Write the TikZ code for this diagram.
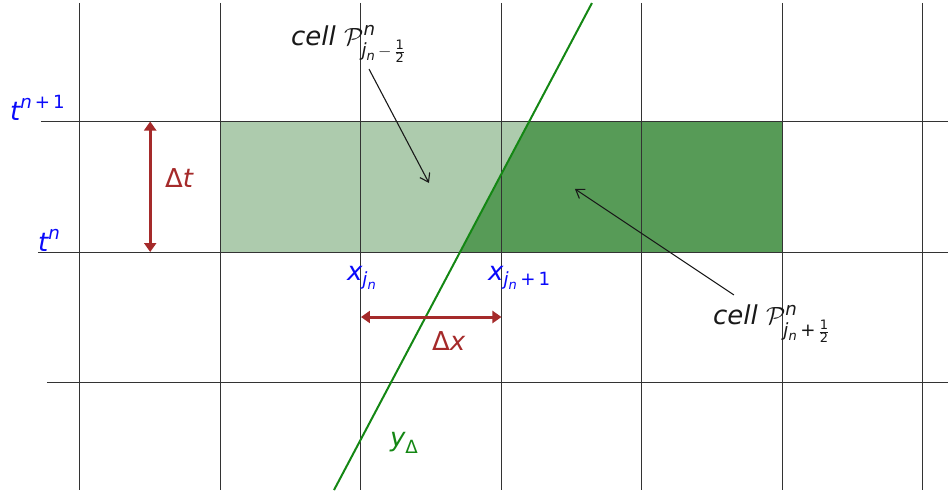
\documentclass[tikz,border=0pt]{standalone}
\usepackage{amsmath}
\usepackage{fontspec}
\setmainfont{DejaVu Sans}
\usetikzlibrary{arrows.meta}

\definecolor{tblue}{RGB}{10,10,250}
\definecolor{dbrown}{RGB}{165,42,42}
\definecolor{yline}{RGB}{20,135,20}
\definecolor{lgreen}{RGB}{173,203,173}
\definecolor{dgreen}{RGB}{87,155,87}

\newcommand{\mv}[1]{\textit{#1}}
\newcommand{\mt}[1]{\textup{#1}}

\begin{document}
\begin{tikzpicture}[x=140.5pt, y=130.5pt,
    gridline/.style={black!80, line width=1pt},
    dimarrow/.style={dbrown, line width=3pt,
        {Triangle[length=9pt,width=12pt]}-{Triangle[length=9pt,width=12pt]}},
    pointer/.style={black!90, line width=1.1pt, -{Straight Barb[length=8pt,width=11pt]}},
    every node/.style={font=\fontsize{26}{30}\selectfont, inner sep=0pt}]
    \useasboundingbox (-2.569,-1.854) rectangle (4.178,1.931);

    % 网格单元
    \coordinate (r00) at (-1,0);
    \coordinate (r10) at (3,0);
    \coordinate (r01) at (-1,1);
    \coordinate (r11) at (3,1);
    \coordinate (yA) at (-0.192,-1.824);
    \coordinate (yB) at (1.644,1.908);
    \coordinate (cA) at (intersection of yA--yB and r00--r10);
    \coordinate (cB) at (intersection of yA--yB and r01--r11);
    \fill[lgreen] (r00) rectangle (r11);
    \fill[dgreen] (cA) -- (cB) -- (r11) -- (r10) -- cycle;

    % 网格线
    \foreach \i in {-2,...,4}
        \draw[gridline] (\i,1.908) -- (\i,-1.824);
    \foreach \j/\s in {1/-2.278, 0/-2.299, -1/-2.235}
        \draw[gridline] (\s,\j) -- (4.178,\j);

    % 直线 y_Delta
    \draw[yline, line width=2pt] (yA) -- (yB);
    \node[yline, anchor=base west] (ylab) at (0.206,-1.494) {$\mv{y}_{\mt{Δ}}$};

    % 时间层
    \node[tblue, anchor=base west] (tn1) at (-2.498,1.01) {$\mv{t}^{\mv{n}\mt{\,+\,}\mt{1}}$};
    \node[tblue, anchor=base west] (tn) at (-2.299,0.005) {$\mv{t}^{\mv{n}}$};

    % 空间节点
    \node[tblue, anchor=base west] (xj) at (-0.1,-0.215) {$\mv{x}_{\mv{j}_{\mv{n}}}$};
    \node[tblue, anchor=base west] (xj1) at (0.904,-0.215) {$\mv{x}_{\mv{j}_{\mv{n}}\mt{\,+\,}\mt{1}}$};

    % 步长
    \coordinate (dtA) at (-1.5,0);
    \coordinate (dtB) at (-1.5,1);
    \draw[dimarrow] (dtA) -- (dtB);
    \node[dbrown, anchor=base west] (dt) at (-1.395,0.498) {\mt{Δ}\mv{t}};
    \coordinate (dxA) at (0,-0.498);
    \coordinate (dxB) at (1,-0.498);
    \draw[dimarrow] (dxA) -- (dxB);
    \node[dbrown, anchor=base west] (dx) at (0.505,-0.751) {\mt{Δ}\mv{x}};

    % 单元标注
    \node[black!90, anchor=base west] (cellL) at (-0.498,1.586)
        {\mv{cell} $\mathcal{P}^{\mv{n}}_{\mv{j}_{\mv{n}}\,-\,\frac{\mt{1}}{\mt{2}}}$};
    \node[black!90, anchor=base west] (cellR) at (2.505,-0.559)
        {\mv{cell} $\mathcal{P}^{\mv{n}}_{\mv{j}_{\mv{n}}\mt{\,+\,}\frac{\mt{1}}{\mt{2}}}$};
    \coordinate (tipL) at (0.484,0.529);
    \coordinate (tipR) at (1.523,0.483);
    \draw[pointer] ([xshift=78pt,yshift=-24pt]cellL.base west) -- (tipL);
    \draw[pointer] ([xshift=21pt,yshift=30pt]cellR.base west) -- (tipR);
\end{tikzpicture}
\end{document}
